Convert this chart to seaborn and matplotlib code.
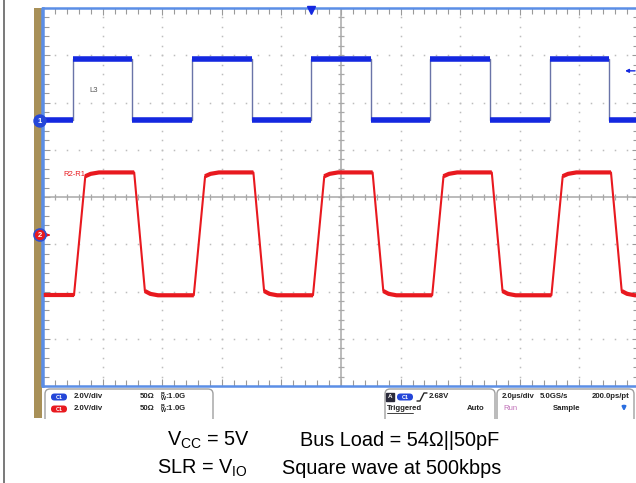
import numpy as np
import pandas as pd
import matplotlib
matplotlib.use("Agg")
import matplotlib.pyplot as plt
import seaborn as sns
from matplotlib.patches import FancyBboxPatch, Rectangle, Circle

# Scope traces, in screen divisions (10 x 8 grid, centre = 0,0)
blue_edges = [-4.5, -3.5, -2.5, -1.5, -0.5, 0.5, 1.5, 2.5, 3.5, 4.5]
blue_low = 1.62
blue_high = 2.92

red_rise = [-4.48, -2.47, -0.47, 1.53, 3.53]
red_fall = [-3.47, -1.47, 0.53, 2.53, 4.53]
red_low = -2.08
red_high = 0.52

# settings shown in the status bar
ch_scale = ["2.0V/div", "2.0V/div"]
ch_term = ["50Ω", "50Ω"]
ch_bw = ["1.0G", "1.0G"]
trig_level = "2.68V"
timebase = ["2.0µs/div", "5.0GS/s", "200.0ps/pt"]

BLUE = "#1428e0"
RED = "#e8191f"
FRAME = "#5b8ee6"

sns.set_style("white")
plt.rcParams["font.family"] = ["Liberation Sans", "DejaVu Sans"]
plt.rcParams["mathtext.default"] = "regular"

W, H = 636, 483
fig = plt.figure(figsize=(W / 100, H / 100), dpi=100)

# ---- main scope screen ----
x0, x1, y0, y1 = 43, 639, 8, 386
ax = fig.add_axes([x0 / W, 1 - y1 / H, (x1 - x0) / W, (y1 - y0) / H])
ax.set_xlim(-5, 5)
ax.set_ylim(-4, 4)
ax.set_xticks(np.arange(-5, 5.01, 1))
ax.set_yticks(np.arange(-4, 4.01, 1))
ax.set_xticks(np.arange(-5, 5.01, 0.2), minor=True)
ax.set_yticks(np.arange(-4, 4.01, 0.2), minor=True)
ax.tick_params(which="both", direction="in", top=True, right=True, left=True, bottom=True,
               labelbottom=False, labelleft=False, color="#9a9a9a", width=0.8)
ax.tick_params(which="major", length=5)
ax.tick_params(which="minor", length=4)
for s in ax.spines.values():
    s.set_color(FRAME)
    s.set_linewidth(1.8)

# dotted graticule
for gx in range(-4, 5):
    if gx == 0:
        continue
    yy = np.arange(-4, 4.01, 0.2)
    ax.plot(np.full_like(yy, gx), yy, ls="none", marker="s", ms=1.1, color="#bdbdbd", mew=0)
for gy in range(-3, 4):
    if gy == 0:
        continue
    xx = np.arange(-5, 5.01, 0.2)
    ax.plot(xx, np.full_like(xx, gy), ls="none", marker="s", ms=1.1, color="#bdbdbd", mew=0)

# centre crosshair with ticks
ax.axhline(0, color="#a8a8a8", lw=1.1, zorder=1)
ax.axvline(0, color="#a8a8a8", lw=1.1, zorder=1)
xx = np.arange(-5, 5.01, 0.2)
yy = np.arange(-4, 4.01, 0.2)
ax.plot(xx, np.zeros_like(xx), ls="none", marker="|", ms=5, color="#a8a8a8", mew=0.9)
ax.plot(np.zeros_like(yy), yy, ls="none", marker="_", ms=5, color="#a8a8a8", mew=0.9)

# blue trace (channel 1)
bt, bv = [-5.0], [blue_low]
level = blue_low
for e in blue_edges:
    new = blue_high if level == blue_low else blue_low
    bt += [e, e]
    bv += [level, new]
    level = new
bt.append(5.0)
bv.append(level)
blue_df = pd.DataFrame({"t": bt, "v": bv, "seg": np.arange(len(bt)) // 2})
sns.lineplot(data=blue_df, x="t", y="v", ax=ax, estimator=None, sort=False,
             color="#6a74a8", lw=1.0, zorder=3)
sns.lineplot(data=blue_df, x="t", y="v", units="seg", ax=ax, estimator=None, sort=False,
             color=BLUE, lw=4.0, zorder=4, solid_capstyle="butt")

# red trace (R2-R1)
path = [(-5.0, red_low)]
flats = [[(-5.0, red_low), (red_rise[0], red_low)]]
for i, (r, f) in enumerate(zip(red_rise, red_fall)):
    nxt = red_rise[i + 1] if i + 1 < len(red_rise) else 5.0
    top = [(r + 0.19, red_high - 0.08), (r + 0.28, red_high - 0.03), (r + 0.42, red_high), (f, red_high)]
    bot = [(f + 0.18, red_low + 0.09), (f + 0.27, red_low + 0.03), (f + 0.4, red_low), (nxt, red_low)]
    path += [(r, red_low)] + top + bot
    flats += [top, bot]
red_df = pd.DataFrame(path, columns=["t", "v"])
flat_df = pd.DataFrame([(t, v, k) for k, seg in enumerate(flats) for t, v in seg],
                       columns=["t", "v", "seg"])
sns.lineplot(data=red_df, x="t", y="v", ax=ax, estimator=None, sort=False,
             color=RED, lw=1.5, zorder=3)
sns.lineplot(data=flat_df, x="t", y="v", units="seg", ax=ax, estimator=None, sort=False,
             color=RED, lw=3.0, zorder=4, solid_capstyle="butt")
ax.set_xlabel("")
ax.set_ylabel("")

ax.text(-4.22, 2.25, "L3", fontsize=5.5, color="#555555", va="center")
ax.text(-4.65, 0.47, "R2-R1", fontsize=5.5, color=RED, va="center")
# trigger position / level markers
ax.plot(-0.5, 3.95, marker="v", ms=6, color=BLUE, clip_on=False, zorder=6)
ax.annotate("", xy=(4.72, 2.67), xytext=(4.98, 2.67),
            arrowprops=dict(arrowstyle="-|>", color=BLUE, lw=1.0, mutation_scale=5))

# ---- overlay in pixel coordinates ----
ov = fig.add_axes([0, 0, 1, 1], zorder=5)
ov.set_xlim(0, W)
ov.set_ylim(H, 0)
ov.axis("off")
ov.patch.set_alpha(0)

ov.plot([4, 4], [0, H], color="#6e6e6e", lw=1.3)
ov.add_patch(Rectangle((34, 8), 7.5, 410, color="#a89058", lw=0))
ov.plot([42, 42], [8, 386], color=FRAME, lw=1.8)

ov.add_patch(Circle((40, 121), 6, color="#2446d8", zorder=7))
ov.text(40, 121.5, "1", color="white", fontsize=5.5, fontweight="bold", ha="center", va="center", zorder=8)
ov.add_patch(Circle((40, 235), 6, facecolor=RED, edgecolor="#3050d0", lw=1.2, zorder=7))
ov.text(40, 235.5, "2", color="white", fontsize=5.5, fontweight="bold", ha="center", va="center", zorder=8)
ov.annotate("", xy=(53, 235), xytext=(45, 235),
            arrowprops=dict(arrowstyle="-|>", color=RED, lw=1.0, mutation_scale=5))

# status bar boxes
for bx0, bx1 in [(45, 213), (385, 495), (497, 634)]:
    ov.add_patch(FancyBboxPatch((bx0, 389), bx1 - bx0, 40,
                                boxstyle="round,pad=0,rounding_size=5",
                                facecolor="white", edgecolor="#a0a0a0", lw=1.0, zorder=2))
ov.add_patch(Rectangle((30, 418.5), 610, 12, color="white", lw=0, zorder=3))


def pill(x, y, col, label):
    ov.add_patch(FancyBboxPatch((x - 8, y - 3.5), 16, 7, boxstyle="round,pad=0,rounding_size=3.5",
                                facecolor=col, edgecolor="none", zorder=4))
    ov.text(x, y + 0.3, label, color="white", fontsize=4, fontweight="bold", ha="center", va="center", zorder=5)


st = dict(fontsize=5.6, fontweight="bold", va="center", color="#222222", zorder=5)
for row, (col, lab) in enumerate([("#2446d8", "C1"), (RED, "C1")]):
    yrow = 397 + row * 12
    pill(59, yrow, col, lab)
    ov.text(74, yrow, ch_scale[row], **st)
    ov.text(140, yrow, ch_term[row], **st)
    ov.text(160, yrow, r"$^{B}_{W}$:" + ch_bw[row], **st)

ov.add_patch(Rectangle((386, 392.5), 7.5, 8, color="#2a2a3a", zorder=4))
ov.text(389.7, 396.7, "A", color="white", fontsize=4.5, fontweight="bold", ha="center", va="center", zorder=5)
pill(405, 397, "#2446d8", "C1")
ov.plot([417, 420, 424, 427], [401, 401, 393, 393], color="#222222", lw=1.0, zorder=5)
ov.text(429, 397, trig_level, **st)
ov.text(387, 408, "Triggered", **st)
ov.plot([387, 413], [412.5, 412.5], color="#222222", lw=0.6, zorder=5)
ov.text(467, 408, "Auto", **st)

ov.text(502, 397, timebase[0], **st)
ov.text(540, 397, timebase[1], **st)
ov.text(592, 397, timebase[2], **st)
ov.text(503, 408, "Run", fontsize=5.6, va="center", color="#c070b8", zorder=5)
ov.text(553, 408, "Sample", **st)
ov.annotate("", xy=(624, 414), xytext=(624, 403),
            arrowprops=dict(arrowstyle="-|>", color="#2a6ee0", lw=1.6, mutation_scale=5))

# caption
cap = dict(fontsize=14.3, va="center", color="black")
ov.text(167, 440, r"V$_{CC}$ = 5V", **cap)
ov.text(300, 440, "Bus Load = 54Ω||50pF", **cap)
ov.text(157, 468, r"SLR = V$_{IO}$", **cap)
ov.text(282, 468, "Square wave at 500kbps", **cap)

fig.savefig("out.png", dpi=100)
